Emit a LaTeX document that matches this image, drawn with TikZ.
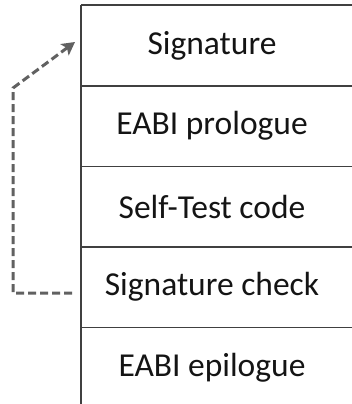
\documentclass[tikz,border=0pt]{standalone}
\usepackage{fontspec}
\setmainfont{Carlito}
\usetikzlibrary{arrows.meta}
\begin{document}
\begin{tikzpicture}[x=1pt,y=-1pt,
  layer/.style={minimum width=262pt,minimum height=80.5pt,inner sep=0pt,
    font=\fontsize{33.5}{40}\selectfont,text=black!92},
  rule/.style={draw=black!75,line width=1.4pt},
  jump/.style={draw=black!62,line width=3pt,dash pattern=on 8pt off 4pt,
    -{Stealth[length=13pt,width=14pt,inset=3pt]}}]
  \useasboundingbox (0,0) rectangle (352,404);
  % the five layers of the code image, top to bottom
  \node[layer] (sig)  at (212,45.5)  {Signature};
  \node[layer] (pro)  at (212,126)   {EABI prologue};
  \node[layer] (test) at (212,206.5) {Self-Test code};
  \node[layer] (chk)  at (212,287)   {Signature check};
  \node[layer] (epi)  at (212,367.5) {EABI epilogue};
  % separators and left border
  \draw[rule] (81,5) -- (81,404);
  \draw[rule] (81,5) -- (352,5);
  \draw[rule] (81,86) -- (352,86);
  \draw[rule] (81,166.5) -- (352,166.5);
  \draw[rule] (81,247) -- (352,247);
  \draw[rule] (81,327.5) -- (352,327.5);
  % jump from the check back to the signature
  \coordinate (from) at (72,293);
  \coordinate (to)   at (75,42);
  \draw[jump] (from) -- (13,293) -- (13,88) -- (to);
\end{tikzpicture}
\end{document}
